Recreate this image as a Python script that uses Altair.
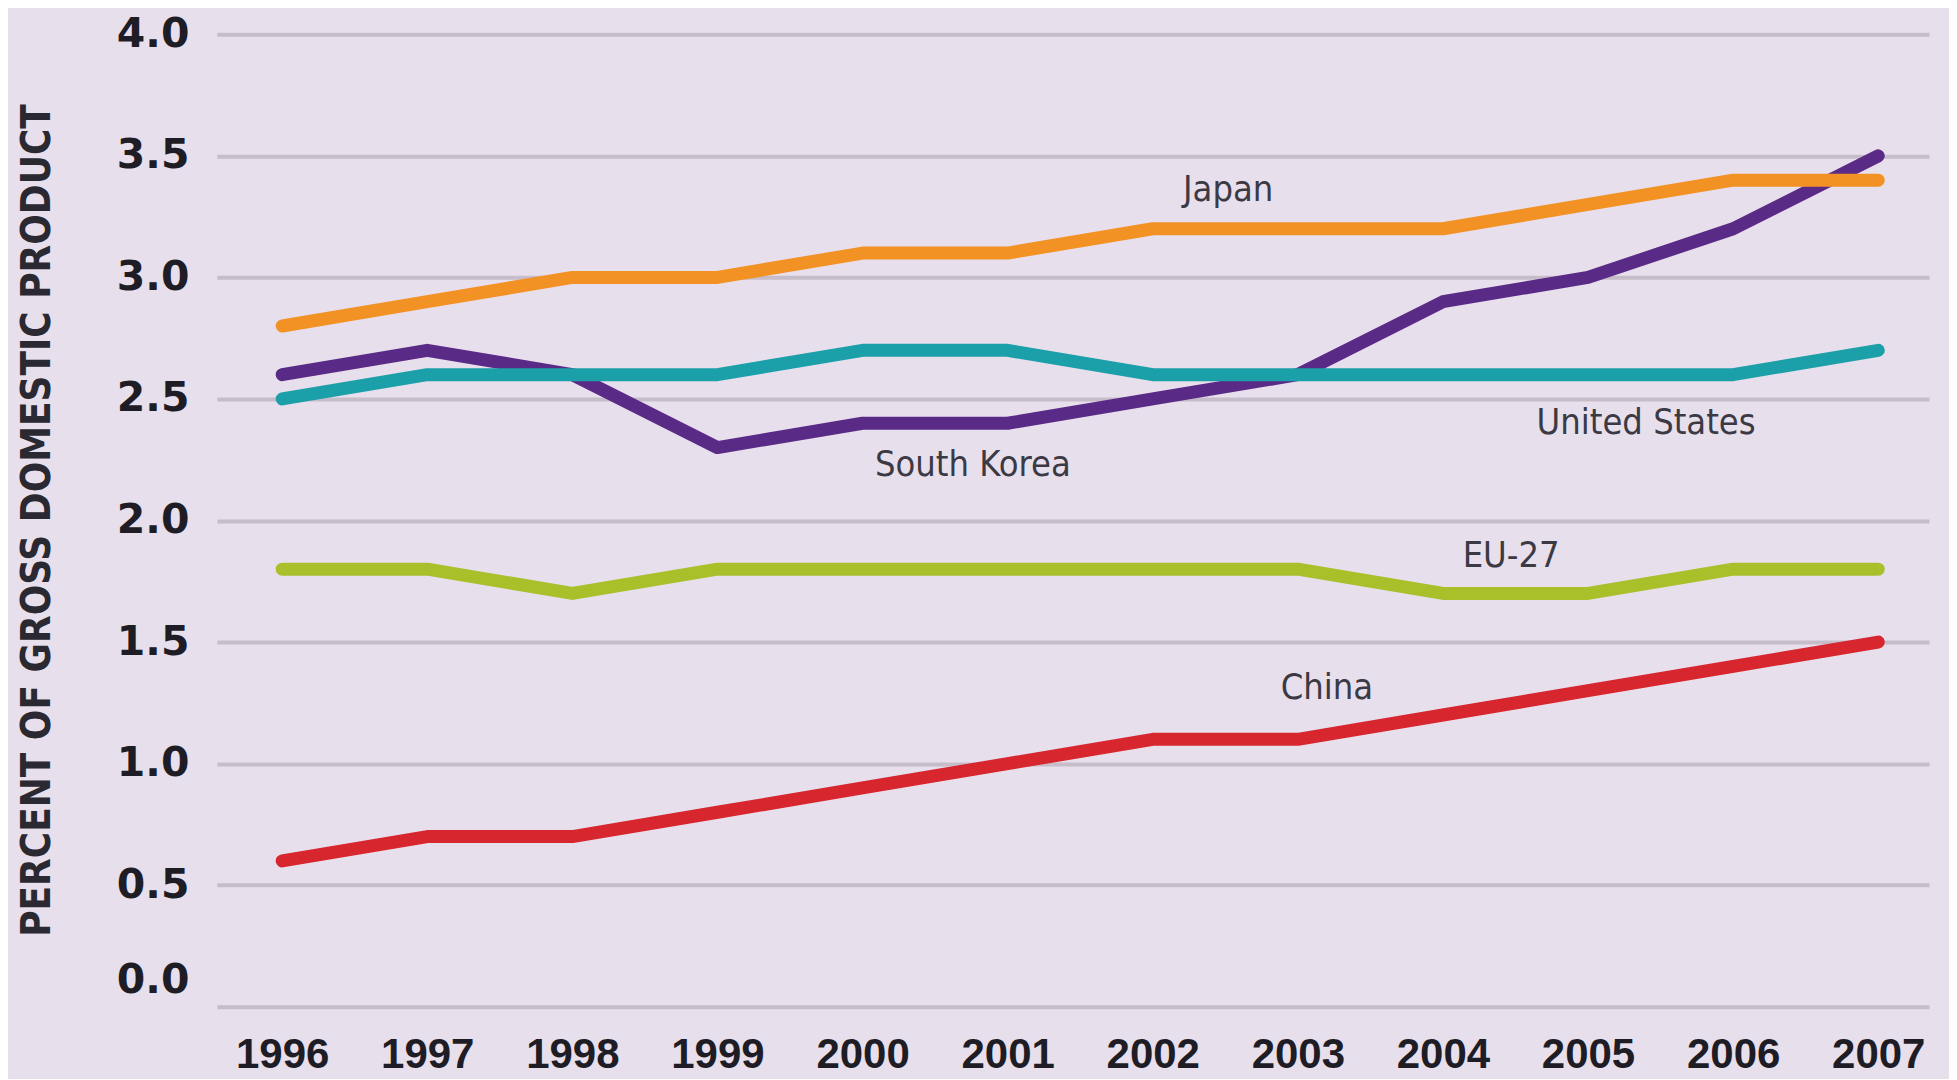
import altair as alt
import pandas as pd

years = list(range(1996, 2008))
japan = [2.8, 2.9, 3.0, 3.0, 3.1, 3.1, 3.2, 3.2, 3.2, 3.3, 3.4, 3.4]
south_korea = [2.6, 2.7, 2.6, 2.3, 2.4, 2.4, 2.5, 2.6, 2.9, 3.0, 3.2, 3.5]
united_states = [2.5, 2.6, 2.6, 2.6, 2.7, 2.7, 2.6, 2.6, 2.6, 2.6, 2.6, 2.7]
eu27 = [1.8, 1.8, 1.7, 1.8, 1.8, 1.8, 1.8, 1.8, 1.7, 1.7, 1.8, 1.8]
china = [0.6, 0.7, 0.7, 0.8, 0.9, 1.0, 1.1, 1.1, 1.2, 1.3, 1.4, 1.5]

# drawing order (first drawn at the bottom)
series_names = ["China", "EU-27", "South Korea", "United States", "Japan"]
series_values = [china, eu27, south_korea, united_states, japan]
series_colors = ["#D7262E", "#A9C02B", "#5A2A87", "#1B9FA8", "#F29224"]

label_names = ["Japan", "South Korea", "United States", "EU-27", "China"]
label_x = [2002.52, 2000.76, 2005.40, 2004.47, 2003.2]
label_y = [3.36, 2.23, 2.40, 1.855, 1.31]

y_ticks = [0.0, 0.5, 1.0, 1.5, 2.0, 2.5, 3.0, 3.5, 4.0]
y_title = "PERCENT OF GROSS DOMESTIC PRODUCT"

condensed = "DejaVu Sans Condensed, Roboto, Liberation Sans, sans-serif"

x_scale = alt.Scale(domain=[1995.55, 2007.35], nice=False, zero=False)
y_scale = alt.Scale(domain=[0, 4], nice=False)

x_axis = alt.Axis(
    values=years, format="d", grid=False, domain=False, ticks=False,
    labelFont="Liberation Sans", labelFontWeight="bold", labelFontSize=42,
    labelColor="#1E1C24", labelPadding=28, title=None, labelOverlap=False,
)
y_axis = alt.Axis(
    values=y_ticks, format=".1f", grid=True, gridColor="#C7BCC9", gridWidth=4,
    domain=False, ticks=False,
    labelFont="DejaVu Sans", labelFontWeight="bold", labelFontSize=41,
    labelColor="#1E1C24", labelPadding=28,
    labelOffset=alt.condition("datum.value == 0", alt.value(-26), alt.value(0)),
    title=y_title, titleFont=condensed, titleFontWeight="bold",
    titleFontSize=40, titleColor="#2A2830", titleAngle=270,
    titleX=-179, titleY=486, titleAlign="center", titleBaseline="middle",
)

x_enc = alt.X("year:Q", scale=x_scale, axis=x_axis)
y_enc = alt.Y("value:Q", scale=y_scale, axis=y_axis)

layers = []
for name, vals, col in zip(series_names, series_values, series_colors):
    df = pd.DataFrame({"year": years, "value": vals, "series": name})
    layers.append(
        alt.Chart(df).mark_line(color=col, strokeWidth=13, strokeCap="round",
                                strokeJoin="round").encode(x=x_enc, y=y_enc)
    )

labels_df = pd.DataFrame({"name": label_names, "year": label_x, "value": label_y})
labels = alt.Chart(labels_df).mark_text(
    font=condensed, fontSize=36, color="#3B3A44",
    align="center", baseline="middle",
).encode(x=x_enc, y=y_enc, text="name:N")

chart = alt.layer(*layers, labels).properties(
    width=1713, height=973,
    autosize=alt.AutoSizeParams(type="none"),
    padding={"left": 209, "top": 26, "right": 20, "bottom": 72},
    background="#E8DFEC",
).configure_view(stroke=None)

chart.save("out.html", embed_options={"renderer": "svg", "actions": False})
